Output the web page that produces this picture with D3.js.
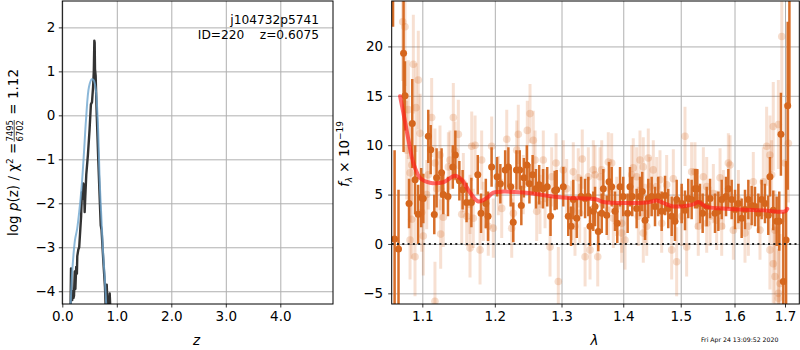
<!DOCTYPE html>
<html>
<head>
<meta charset="utf-8">
<script src="https://cdn.jsdelivr.net/npm/d3@7"></script>
<style>
  body { margin: 0; background: #fff; }
  svg { display: block; font-family: 'DejaVu Sans', sans-serif; }
  .axis text { font-size: 13.5px; fill: #000; font-family: 'DejaVu Sans', sans-serif; }
  .axis line { stroke: #000; stroke-width: 0.8; }
  .axis .domain { display: none; }
  .grid line { stroke: #b0b0b0; stroke-width: 1; }
  .grid .domain { display: none; }
</style>
</head>
<body>
<svg id="chart" width="800" height="350"></svg>
<script>
// left panel: log p(z) curves
const pzChi2 = [
  [0.150, -4.5], [0.160, -3.48], [0.168, -4.0], [0.182, -4.2], [0.195, -4.0], [0.205, -4.15],
  [0.215, -4.1], [0.228, -3.55], [0.240, -3.95], [0.255, -3.45], [0.268, -3.6], [0.275, -3.2],
  [0.294, -3.05], [0.31, -3.0], [0.33, -2.6], [0.345, -2.3], [0.36, -1.75], [0.375, -1.9],
  [0.386, -1.55], [0.398, -1.6], [0.41, -2.2], [0.42, -1.9], [0.44, -1.35], [0.47, -0.9],
  [0.50, -0.33], [0.525, 0.25], [0.545, 0.3], [0.565, 0.65], [0.578, 1.0], [0.588, 1.7],
  [0.594, 1.65], [0.60, 1.05], [0.612, 0.9], [0.631, 0.05], [0.661, -1.05], [0.692, -2.08],
  [0.705, -2.5], [0.72, -2.6], [0.752, -3.3], [0.783, -3.9], [0.80, -4.5],
  [0.815, -3.85], [0.83, -4.35], [0.85, -4.4], [0.87, -4.05], [0.885, -4.5],
];
const pzPrior = [
  [0.15, -4.4], [0.18, -3.6], [0.21, -3.1], [0.233, -2.83], [0.27, -2.6], [0.31, -2.2],
  [0.355, -1.62], [0.40, -0.8], [0.435, -0.1], [0.49, 0.65], [0.54, 0.82], [0.575, 0.8],
  [0.613, 0.6], [0.65, -0.1], [0.69, -1.62], [0.72, -2.4], [0.75, -3.15], [0.78, -3.7], [0.81, -4.4],
];
const zTicks = [0, 1, 2, 3, 4];
const logpTicks = [-4, -3, -2, -1, 0, 1, 2];

// right panel: spectrum [lambda, flux, error]
const darkPoints = [
  [1.062, 28, 6], [1.064, 0.5, 9], [1.069, -0.5, 6], [1.0755, 19.3, 10], [1.0774, 15.0, 3.5],
  [1.0826, 4.1, 2.5], [1.0868, 12.2, 4.5], [1.0905, 6.5, 3.5], [1.0945, 3.0, 3], [1.0985, 4.7, 3],
  [1.1013, 4.6, 2.5], [1.1079, 10.9, 2.7], [1.1111, 9.55, 2.5], [1.1159, 2.97, 2], [1.119, 6.7, 3],
  [1.1257, 7.2, 2.5], [1.128, 5.0, 2], [1.1344, 4.8, 2], [1.141, 7.8, 2.2], [1.1445, 9.0, 2.5],
  [1.150, 6.4, 2], [1.1545, 5.5, 2], [1.16, 4.2, 2], [1.1667, 4.2, 2.5],
  [1.1757, 7.0, 2], [1.1803, 3.1, 2], [1.1871, 4.1, 2.5], [1.1903, 2.8, 2.5], [1.1954, 7.8, 2],
  [1.2033, 6.8, 2], [1.208, 6.1, 2], [1.215, 7.5, 2], [1.2197, 7.8, 2], [1.2231, 5.8, 2],
  [1.2268, 2.2, 2], [1.2316, 7.5, 2], [1.2364, 7.5, 2], [1.2388, 3.9, 2], [1.2426, 6.7, 2],
  [1.247, 8.0, 2], [1.2509, 6.1, 2], [1.2557, 7.0, 2], [1.2607, 5.6, 2], [1.2656, 6.0, 2],
  [1.2715, 5.6, 2], [1.2779, 5.8, 2], [1.283, 2.8, 2], [1.2894, 5.4, 2],
  [1.2925, 5.5, 2], [1.3028, 5.8, 2], [1.3106, 2.8, 2], [1.315, 1.8, 2], [1.3185, 4.5, 2],
  [1.324, 2.6, 2], [1.3309, 4.8, 2], [1.3373, 4.6, 2], [1.3425, 4.8, 2], [1.3453, 1.8, 2],
  [1.3506, 3.3, 2], [1.3534, 3.8, 2], [1.3587, 1.25, 2], [1.3643, 3.1, 2], [1.3669, 5.6, 2],
  [1.3725, 2.9, 2], [1.3763, 6.3, 2], [1.3807, 5.8, 2], [1.3862, 3.3, 2], [1.39, 2.1, 2],
  [1.3946, 5.8, 2], [1.40, 4.8, 2], [1.4074, 3.1, 2], [1.4113, 5.8, 2], [1.4152, 4.8, 2],
  [1.4227, 3.6, 2], [1.4284, 4.8, 2], [1.4323, 5.3, 2],
  [1.4371, 2.4, 2], [1.4427, 4.6, 2], [1.4486, 4.8, 2], [1.4544, 3.8, 2], [1.4601, 4.8, 2],
  [1.4661, 3.3, 2], [1.472, 4.9, 2], [1.4777, 3.6, 2], [1.4838, 2.8, 2], [1.4897, 2.3, 2],
  [1.4927, 4.5, 2], [1.5017, 4.1, 2], [1.5077, 3.4, 2], [1.5136, 4.6, 2], [1.5198, 4.5, 2],
  [1.5259, 5.6, 2], [1.5301, 5.6, 2], [1.5351, 4.1, 2], [1.54, 3.1, 2], [1.5475, 3.8, 2],
  [1.5537, 4.6, 2], [1.563, 3.1, 2], [1.5693, 3.3, 2], [1.5756, 4.5, 2], [1.5838, 4.8, 2],
  [1.5882, 5.6, 2],
  [1.5946, 4.5, 2], [1.601, 3.5, 2], [1.6074, 4.1, 2], [1.6138, 2.6, 2], [1.6203, 3.5, 2],
  [1.6268, 4.5, 2], [1.6333, 3.9, 2], [1.6398, 3.8, 2], [1.6464, 3.1, 2], [1.653, 4.5, 2],
  [1.6596, 4.1, 2], [1.6662, 2.9, 2], [1.6695, 6.8, 2], [1.6762, 3.4, 2], [1.6831, 2.3, 2.5],
  [1.6883, 2.3, 3], [1.6917, 11.1, 4.2], [1.6965, -3.8, 7], [1.7022, 0.4, 8], [1.7055, 14, 8.5],
  [1.709, 28, 14],
];
const lightPoints = [
  [1.0744, 22.5, 6], [1.0774, 22.0, 6], [1.0796, 9.5, 5], [1.0817, 13.6, 5], [1.0839, 7.2, 5],
  [1.0861, 8.0, 4], [1.0882, 18.2, 5], [1.0904, -1.3, 4], [1.0917, 13.8, 4.5], [1.0947, 16.6, 5],
  [1.097, 11.2, 4], [1.0992, 3.2, 4], [1.1013, 0.8, 4], [1.0839, 0.4, 4], [1.0861, 2.5, 4],
  [1.1058, 5.0, 3.5], [1.1079, 7.0, 3.5], [1.1124, 12.8, 4], [1.1168, -5.8, 4], [1.1168, 8.2, 3.5],
  [1.1192, 5.6, 3], [1.1236, 6.4, 3], [1.1245, 1.0, 3.5], [1.128, 2.7, 3], [1.1236, 9.0, 3],
  [1.1349, 7.8, 3.5], [1.1371, 8.5, 3], [1.1417, 12.8, 3.5], [1.1439, 9.4, 3], [1.1486, 11.1, 3.5],
  [1.1533, 3.0, 3], [1.1555, 6.2, 3], [1.1602, 2.8, 3], [1.1648, 4.0, 3], [1.1672, 9.9, 3.5],
  [1.1719, 10.0, 3], [1.1812, 8.5, 3], [1.1789, -0.6, 3.5], [1.1835, 3.3, 3], [1.1906, 1.8, 3],
  [1.1955, 9.9, 3], [1.1978, 1.6, 3], [1.2051, 5.9, 3], [1.21, 3.6, 3], [1.2173, 10.6, 3],
  [1.2246, 1.6, 3], [1.227, 3.1, 3], [1.232, 9.5, 3], [1.2343, 11.1, 3], [1.2417, 6.0, 3],
  [1.2477, 11.5, 3], [1.2518, 13.2, 3], [1.2567, 10.5, 3], [1.2594, 8.5, 3], [1.2619, 3.3, 3],
  [1.2669, 4.0, 3], [1.2719, 8.5, 3], [1.2746, 4.6, 3], [1.2822, -0.3, 3], [1.2848, 6.8, 3],
  [1.2915, 8.2, 3], [1.295, -3.8, 3.5], [1.1648, -0.4, 3], [1.1694, 2.6, 3],
  [1.3028, 7.5, 3], [1.3081, 5.6, 3], [1.316, 3.4, 3], [1.3185, 7.3, 3], [1.3212, 1.8, 3],
  [1.3264, 6.7, 3], [1.3287, 3.1, 3], [1.3328, 8.6, 3], [1.3373, -1.3, 3], [1.3425, 6.8, 3],
  [1.3453, -0.6, 3], [1.3506, 7.5, 3], [1.3534, 7.0, 3], [1.3578, -1.3, 3], [1.3615, 6.8, 3],
  [1.3643, 7.5, 3], [1.3751, 8.3, 3], [1.3751, 3.4, 3], [1.3807, 8.2, 3], [1.3834, 2.6, 3],
  [1.3891, 3.8, 3], [1.3974, 1.1, 3], [1.3974, 2.1, 3], [1.403, 0.4, 3], [1.4142, 7.0, 3],
  [1.4169, 7.7, 3], [1.4227, 6.8, 3], [1.4255, 2.8, 3], [1.4284, 8.5, 3], [1.4341, 7.8, 3],
  [1.4341, 1.1, 3], [1.4371, 3.1, 3], [1.44, 1.8, 3], [1.4427, 8.7, 3], [1.4457, 5.8, 3],
  [1.4514, 7.5, 3], [1.4573, 5.8, 3], [1.4631, 6.5, 3], [1.4661, 2.1, 3], [1.4749, 6.0, 3],
  [1.4838, -0.6, 3], [1.4867, 6.6, 3], [1.4927, -1.8, 3.5], [1.5017, 2.8, 3], [1.5077, 10.9, 3],
  [1.5107, -0.3, 3], [1.5198, 7.3, 3], [1.5259, 7.3, 3], [1.5289, 4.5, 3], [1.5319, 1.8, 3],
  [1.5413, 6.8, 3], [1.5475, 2.1, 3], [1.5475, 5.8, 3], [1.5537, 2.8, 3], [1.5599, 5.1, 3],
  [1.5661, 2.4, 3], [1.5725, 6.7, 3], [1.5756, 1.8, 3], [1.5788, 4.5, 3], [1.5882, 8.2, 3],
  [1.5914, 8.0, 3], [1.5978, 1.4, 3], [1.6074, 4.5, 3], [1.6203, 1.1, 3], [1.6268, 1.8, 3],
  [1.6365, 6.3, 3], [1.6497, 1.4, 3], [1.6563, 6.3, 3.5], [1.6629, 9.9, 4], [1.6695, 9.0, 4],
  [1.6729, 7.0, 3.5], [1.6762, 11.9, 4.5], [1.6796, 1.4, 4], [1.6865, 12.1, 4.5], [1.6695, -0.6, 4],
  [1.6762, -2.0, 4], [1.6796, -3.3, 5], [1.6865, -5.0, 5], [1.6899, -4.0, 5], [1.6865, -5.5, 5],
  [1.6934, 21.0, 6], [1.70, 8.2, 6], [1.7068, 10.2, 6],
];
const modelCurve = [
  [1.0710, 14.96], [1.0752, 13.3], [1.0817, 10.6], [1.0882, 8.2], [1.097, 6.7], [1.1102, 6.2],
  [1.128, 6.25], [1.144, 6.9], [1.1533, 6.5], [1.1648, 5.2], [1.1765, 4.3], [1.1884, 4.65],
  [1.1978, 5.2], [1.2123, 5.3], [1.2417, 5.2], [1.3028, 4.7], [1.3561, 4.5], [1.3669, 4.25],
  [1.44, 4.2], [1.4573, 4.4], [1.4689, 4.15], [1.4867, 3.8], [1.5227, 4.0], [1.5319, 4.25],
  [1.5475, 3.75], [1.5913, 3.55], [1.6563, 3.4], [1.70, 3.3], [1.7046, 3.55],
];
const lamTicks = [1.1, 1.2, 1.3, 1.4, 1.5, 1.6, 1.7];
const fluxTicks = [-5, 0, 5, 10, 15, 20];

const orange = '#d5661d';
const fmtMinus = (d) => String(d).replace('-', '\u2212');

const svg = d3.select('#chart');
const defs = svg.append('defs');

function addClip(id, x0, x1, y0, y1) {
  defs.append('clipPath').attr('id', id)
    .append('rect').attr('x', x0).attr('y', y0).attr('width', x1 - x0).attr('height', y1 - y0);
}

// ---------- left panel ----------
const L = { x0: 62.3, x1: 333, y0: 1, y1: 304 };
const zScale = d3.scaleLinear().domain([0, 4.967]).range([L.x0, L.x1]);
const pScale = d3.scaleLinear().domain([-4.29, 2.6]).range([L.y1, L.y0]);
addClip('clipL', L.x0, L.x1, L.y0, L.y1);

svg.append('g').attr('class', 'grid')
  .attr('transform', `translate(0,${L.y1})`)
  .call(d3.axisBottom(zScale).tickValues(zTicks).tickSize(-(L.y1 - L.y0)).tickFormat(''));
svg.append('g').attr('class', 'grid')
  .attr('transform', `translate(${L.x0},0)`)
  .call(d3.axisLeft(pScale).tickValues(logpTicks).tickSize(-(L.x1 - L.x0)).tickFormat(''));

const leftPlot = svg.append('g').attr('clip-path', 'url(#clipL)');
const pLine = d3.line().x((d) => zScale(d[0])).y((d) => pScale(d[1]));
leftPlot.append('path').datum(pzChi2)
  .attr('d', pLine).attr('fill', 'none').attr('stroke', '#333').attr('stroke-width', 2.4)
  .attr('stroke-linejoin', 'round');
leftPlot.append('path').datum(pzPrior)
  .attr('d', pLine.curve(d3.curveCatmullRom)).attr('fill', 'none')
  .attr('stroke', '#6fa6cf').attr('stroke-opacity', 0.8).attr('stroke-width', 2);

svg.append('g').attr('class', 'axis')
  .attr('transform', `translate(0,${L.y1})`)
  .call(d3.axisBottom(zScale).tickValues(zTicks).tickSize(3.5).tickPadding(3.5));
svg.append('g').attr('class', 'axis')
  .attr('transform', `translate(${L.x0},0)`)
  .call(d3.axisLeft(pScale).tickValues(logpTicks).tickSize(3.5).tickPadding(3.5).tickFormat(fmtMinus));

svg.append('rect').attr('x', L.x0).attr('y', L.y0).attr('width', L.x1 - L.x0).attr('height', L.y1 - L.y0)
  .attr('fill', 'none').attr('stroke', '#000').attr('stroke-width', 1);

svg.append('text').attr('x', 319).attr('y', 24).attr('text-anchor', 'end')
  .attr('font-size', 12.2).text('j104732p5741');
svg.append('text').attr('x', 319).attr('y', 39).attr('text-anchor', 'end')
  .attr('font-size', 12.2).style('white-space', 'pre').text('ID=220    z=0.6075');

svg.append('text').attr('x', 196.5).attr('y', 345).attr('text-anchor', 'middle')
  .attr('font-size', 13.5).attr('font-style', 'italic').text('z');

// rotated y label with stacked fraction
const ylabL = svg.append('g').attr('transform', 'translate(18,152.5) rotate(-90)');
const ylabInner = ylabL.append('g');
const partA = ylabInner.append('text').attr('font-size', 13.5);
partA.append('tspan').text('log ');
partA.append('tspan').attr('font-style', 'italic').text('p');
partA.append('tspan').text('(z) / \u03c7');
partA.append('tspan').attr('font-size', 9).attr('dy', -5.5).text('2');
partA.append('tspan').attr('dy', 5.5).text(' = ');
const wA = partA.node().getBBox().width;
const num = ylabInner.append('text').attr('font-size', 8.5).attr('text-anchor', 'middle').text('7495');
const wF = num.node().getBBox().width + 2;
num.attr('x', wA + wF / 2).attr('y', -5.5);
ylabInner.append('text').attr('font-size', 8.5).attr('text-anchor', 'middle')
  .attr('x', wA + wF / 2).attr('y', 5).text('6702');
ylabInner.append('line').attr('x1', wA + 1).attr('x2', wA + wF - 1).attr('y1', -3.8).attr('y2', -3.8)
  .attr('stroke', '#000').attr('stroke-width', 0.7);
const partC = ylabInner.append('text').attr('font-size', 13.5).attr('x', wA + wF).style('white-space', 'pre')
  .text(' = 1.12');
const wTot = wA + wF + partC.node().getBBox().width;
ylabInner.attr('transform', `translate(${-wTot / 2},0)`);

// ---------- right panel ----------
const R = { x0: 391.7, x1: 799.3, y0: 1, y1: 304 };
const lamScale = d3.scaleLog().domain([1.0603, 1.7294]).range([R.x0, R.x1]);
const fScale = d3.scaleLinear().domain([-6.08, 24.6]).range([R.y1, R.y0]);
addClip('clipR', R.x0, R.x1, R.y0, R.y1);

svg.append('g').attr('class', 'grid')
  .attr('transform', `translate(0,${R.y1})`)
  .call(d3.axisBottom(lamScale).tickValues(lamTicks).tickSize(-(R.y1 - R.y0)).tickFormat(''));
svg.append('g').attr('class', 'grid')
  .attr('transform', `translate(${R.x0},0)`)
  .call(d3.axisLeft(fScale).tickValues(fluxTicks).tickSize(-(R.x1 - R.x0)).tickFormat(''));

const rightPlot = svg.append('g').attr('clip-path', 'url(#clipR)');

function drawPoints(group, data, barWidth, barOpacity, r, dotOpacity) {
  group.append('g').selectAll('line').data(data).join('line')
    .attr('x1', (d) => lamScale(d[0])).attr('x2', (d) => lamScale(d[0]))
    .attr('y1', (d) => fScale(d[1] - d[2])).attr('y2', (d) => fScale(d[1] + d[2]))
    .attr('stroke', orange).attr('stroke-width', barWidth).attr('stroke-opacity', barOpacity);
  group.append('g').selectAll('circle').data(data).join('circle')
    .attr('cx', (d) => lamScale(d[0])).attr('cy', (d) => fScale(d[1]))
    .attr('r', r).attr('fill', orange).attr('fill-opacity', dotOpacity);
}

drawPoints(rightPlot, lightPoints, 3, 0.2, 3.8, 0.22);
drawPoints(rightPlot, darkPoints, 2.5, 0.95, 3.5, 1);

rightPlot.append('path').datum(modelCurve)
  .attr('d', d3.line().curve(d3.curveCatmullRom).x((d) => lamScale(d[0])).y((d) => fScale(d[1])))
  .attr('fill', 'none').attr('stroke', '#ff1a1a').attr('stroke-opacity', 0.65).attr('stroke-width', 4)
  .attr('stroke-linecap', 'round');

rightPlot.append('line')
  .attr('x1', R.x0).attr('x2', R.x1).attr('y1', fScale(0)).attr('y2', fScale(0))
  .attr('stroke', '#222').attr('stroke-width', 2).attr('stroke-dasharray', '2,3.3');

svg.append('g').attr('class', 'axis')
  .attr('transform', `translate(0,${R.y1})`)
  .call(d3.axisBottom(lamScale).tickValues(lamTicks).tickSize(3.5).tickPadding(3.5).tickFormat(d3.format('.1f')));
svg.append('g').attr('class', 'axis')
  .attr('transform', `translate(${R.x0},0)`)
  .call(d3.axisLeft(fScale).tickValues(fluxTicks).tickSize(3.5).tickPadding(5).tickFormat(fmtMinus));

svg.append('rect').attr('x', R.x0).attr('y', R.y0).attr('width', R.x1 - R.x0).attr('height', R.y1 - R.y0)
  .attr('fill', 'none').attr('stroke', '#000').attr('stroke-width', 1);

svg.append('text').attr('x', 594.5).attr('y', 345).attr('text-anchor', 'middle')
  .attr('font-size', 13.5).attr('font-style', 'italic').text('\u03bb');

const ylabR = svg.append('text').attr('transform', 'translate(348.5,154) rotate(-90)')
  .attr('text-anchor', 'middle').attr('font-size', 13.5);
ylabR.append('tspan').attr('font-style', 'italic').text('f');
ylabR.append('tspan').attr('font-size', 9).attr('font-style', 'italic').attr('dy', 3).text('\u03bb');
ylabR.append('tspan').attr('dy', -3).text(' \u00d7 10');
ylabR.append('tspan').attr('font-size', 9).attr('dy', -5.5).text('\u221219');

svg.append('text').attr('x', 701).attr('y', 342).attr('font-size', 6.2)
  .text('Fri Apr 24 13:09:52 2020');
</script>
</body>
</html>
